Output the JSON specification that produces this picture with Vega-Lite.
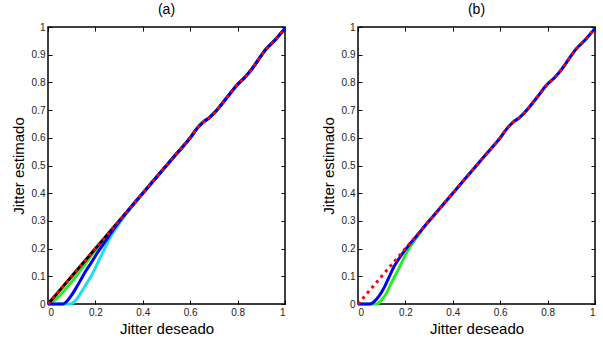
{
  "$schema": "https://vega.github.io/schema/vega-lite/v6.json",
  "padding": {"left": 10, "top": 2, "right": 3, "bottom": 2},
  "spacing": 28,
  "config": {
    "font": "Liberation Sans",
    "view": {"stroke": "black", "strokeWidth": 1.5},
    "axis": {
      "domain": false, "grid": false,
      "tickColor": "black", "tickSize": -4, "tickWidth": 1,
      "labelFontSize": 10, "labelColor": "#222", "labelPadding": 7,
      "titleFontSize": 15, "titleFontWeight": "normal", "titleColor": "black"
    },
    "axisY": {"titlePadding": 5},
    "title": {"fontSize": 14, "fontWeight": "normal", "offset": 5, "color": "black"},
    "line": {"strokeWidth": 3, "interpolate": "monotone"}
  },
  "datasets": {
    "d": [
      {"p":"a","s":"black","x":0,"y":0},{"p":"a","s":"black","x":0.1,"y":0.1},{"p":"a","s":"black","x":0.2,"y":0.2},{"p":"a","s":"black","x":0.3,"y":0.3},
      {"p":"a","s":"black","x":0.4,"y":0.4},{"p":"a","s":"black","x":0.5,"y":0.5},{"p":"a","s":"black","x":0.55,"y":0.55},{"p":"a","s":"black","x":0.6,"y":0.6},{"p":"a","s":"black","x":0.63,"y":0.635},{"p":"a","s":"black","x":0.655,"y":0.657},{"p":"a","s":"black","x":0.68,"y":0.672},{"p":"a","s":"black","x":0.705,"y":0.693},{"p":"a","s":"black","x":0.75,"y":0.74},{"p":"a","s":"black","x":0.795,"y":0.788},{"p":"a","s":"black","x":0.83,"y":0.818},{"p":"a","s":"black","x":0.86,"y":0.848},{"p":"a","s":"black","x":0.89,"y":0.885},{"p":"a","s":"black","x":0.92,"y":0.92},{"p":"a","s":"black","x":0.96,"y":0.955},{"p":"a","s":"black","x":1,"y":0.995},

      {"p":"a","s":"red","x":0,"y":0},{"p":"a","s":"red","x":0.1,"y":0.1},{"p":"a","s":"red","x":0.2,"y":0.2},{"p":"a","s":"red","x":0.3,"y":0.3},
      {"p":"a","s":"red","x":0.4,"y":0.4},{"p":"a","s":"red","x":0.5,"y":0.5},{"p":"a","s":"red","x":0.55,"y":0.55},{"p":"a","s":"red","x":0.6,"y":0.6},{"p":"a","s":"red","x":0.63,"y":0.635},{"p":"a","s":"red","x":0.655,"y":0.657},{"p":"a","s":"red","x":0.68,"y":0.672},{"p":"a","s":"red","x":0.705,"y":0.693},{"p":"a","s":"red","x":0.75,"y":0.74},{"p":"a","s":"red","x":0.795,"y":0.788},{"p":"a","s":"red","x":0.83,"y":0.818},{"p":"a","s":"red","x":0.86,"y":0.848},{"p":"a","s":"red","x":0.89,"y":0.885},{"p":"a","s":"red","x":0.92,"y":0.92},{"p":"a","s":"red","x":0.96,"y":0.955},{"p":"a","s":"red","x":1,"y":0.995},

      {"p":"a","s":"green","x":0,"y":0},{"p":"a","s":"green","x":0.02,"y":0.008},{"p":"a","s":"green","x":0.042,"y":0.024},{"p":"a","s":"green","x":0.07,"y":0.05},{"p":"a","s":"green","x":0.098,"y":0.078},{"p":"a","s":"green","x":0.12,"y":0.102},{"p":"a","s":"green","x":0.141,"y":0.126},{"p":"a","s":"green","x":0.17,"y":0.16},{"p":"a","s":"green","x":0.2,"y":0.195},{"p":"a","s":"green","x":0.25,"y":0.248},{"p":"a","s":"green","x":0.3,"y":0.3},
      {"p":"a","s":"green","x":0.4,"y":0.4},{"p":"a","s":"green","x":0.5,"y":0.5},{"p":"a","s":"green","x":0.55,"y":0.55},{"p":"a","s":"green","x":0.6,"y":0.6},{"p":"a","s":"green","x":0.63,"y":0.635},{"p":"a","s":"green","x":0.655,"y":0.657},{"p":"a","s":"green","x":0.68,"y":0.672},{"p":"a","s":"green","x":0.705,"y":0.693},{"p":"a","s":"green","x":0.75,"y":0.74},{"p":"a","s":"green","x":0.795,"y":0.788},{"p":"a","s":"green","x":0.83,"y":0.818},{"p":"a","s":"green","x":0.86,"y":0.848},{"p":"a","s":"green","x":0.89,"y":0.885},{"p":"a","s":"green","x":0.92,"y":0.92},{"p":"a","s":"green","x":0.96,"y":0.955},{"p":"a","s":"green","x":1,"y":0.995},

      {"p":"a","s":"blue","x":0,"y":0},{"p":"a","s":"blue","x":0.063,"y":0},{"p":"a","s":"blue","x":0.08,"y":0.01},{"p":"a","s":"blue","x":0.098,"y":0.03},{"p":"a","s":"blue","x":0.12,"y":0.06},{"p":"a","s":"blue","x":0.14,"y":0.09},{"p":"a","s":"blue","x":0.16,"y":0.12},{"p":"a","s":"blue","x":0.183,"y":0.15},{"p":"a","s":"blue","x":0.21,"y":0.187},{"p":"a","s":"blue","x":0.239,"y":0.222},{"p":"a","s":"blue","x":0.27,"y":0.262},{"p":"a","s":"blue","x":0.3,"y":0.297},{"p":"a","s":"blue","x":0.35,"y":0.35},
      {"p":"a","s":"blue","x":0.4,"y":0.4},{"p":"a","s":"blue","x":0.5,"y":0.5},{"p":"a","s":"blue","x":0.55,"y":0.55},{"p":"a","s":"blue","x":0.6,"y":0.6},{"p":"a","s":"blue","x":0.63,"y":0.635},{"p":"a","s":"blue","x":0.655,"y":0.657},{"p":"a","s":"blue","x":0.68,"y":0.672},{"p":"a","s":"blue","x":0.705,"y":0.693},{"p":"a","s":"blue","x":0.75,"y":0.74},{"p":"a","s":"blue","x":0.795,"y":0.788},{"p":"a","s":"blue","x":0.83,"y":0.818},{"p":"a","s":"blue","x":0.86,"y":0.848},{"p":"a","s":"blue","x":0.89,"y":0.885},{"p":"a","s":"blue","x":0.92,"y":0.92},{"p":"a","s":"blue","x":0.96,"y":0.955},{"p":"a","s":"blue","x":1,"y":0.995},

      {"p":"a","s":"cyan","x":0,"y":0},{"p":"a","s":"cyan","x":0.09,"y":0},{"p":"a","s":"cyan","x":0.105,"y":0.004},{"p":"a","s":"cyan","x":0.12,"y":0.016},{"p":"a","s":"cyan","x":0.14,"y":0.042},{"p":"a","s":"cyan","x":0.16,"y":0.07},{"p":"a","s":"cyan","x":0.183,"y":0.102},{"p":"a","s":"cyan","x":0.205,"y":0.14},{"p":"a","s":"cyan","x":0.225,"y":0.175},{"p":"a","s":"cyan","x":0.245,"y":0.21},{"p":"a","s":"cyan","x":0.267,"y":0.247},{"p":"a","s":"cyan","x":0.29,"y":0.277},{"p":"a","s":"cyan","x":0.309,"y":0.3},{"p":"a","s":"cyan","x":0.33,"y":0.325},{"p":"a","s":"cyan","x":0.36,"y":0.358},
      {"p":"a","s":"cyan","x":0.4,"y":0.4},{"p":"a","s":"cyan","x":0.5,"y":0.5},{"p":"a","s":"cyan","x":0.55,"y":0.55},{"p":"a","s":"cyan","x":0.6,"y":0.6},{"p":"a","s":"cyan","x":0.63,"y":0.635},{"p":"a","s":"cyan","x":0.655,"y":0.657},{"p":"a","s":"cyan","x":0.68,"y":0.672},{"p":"a","s":"cyan","x":0.705,"y":0.693},{"p":"a","s":"cyan","x":0.75,"y":0.74},{"p":"a","s":"cyan","x":0.795,"y":0.788},{"p":"a","s":"cyan","x":0.83,"y":0.818},{"p":"a","s":"cyan","x":0.86,"y":0.848},{"p":"a","s":"cyan","x":0.89,"y":0.885},{"p":"a","s":"cyan","x":0.92,"y":0.92},{"p":"a","s":"cyan","x":0.96,"y":0.955},{"p":"a","s":"cyan","x":1,"y":0.995},

      {"p":"b","s":"red","x":0,"y":0},{"p":"b","s":"red","x":0.1,"y":0.1},{"p":"b","s":"red","x":0.2,"y":0.2},{"p":"b","s":"red","x":0.3,"y":0.3},
      {"p":"b","s":"red","x":0.4,"y":0.4},{"p":"b","s":"red","x":0.5,"y":0.5},{"p":"b","s":"red","x":0.55,"y":0.55},{"p":"b","s":"red","x":0.6,"y":0.6},{"p":"b","s":"red","x":0.63,"y":0.635},{"p":"b","s":"red","x":0.655,"y":0.657},{"p":"b","s":"red","x":0.68,"y":0.672},{"p":"b","s":"red","x":0.705,"y":0.693},{"p":"b","s":"red","x":0.75,"y":0.74},{"p":"b","s":"red","x":0.795,"y":0.79},{"p":"b","s":"red","x":0.83,"y":0.818},{"p":"b","s":"red","x":0.86,"y":0.848},{"p":"b","s":"red","x":0.89,"y":0.885},{"p":"b","s":"red","x":0.92,"y":0.92},{"p":"b","s":"red","x":0.96,"y":0.955},{"p":"b","s":"red","x":1,"y":0.995},

      {"p":"b","s":"blue","x":0,"y":0},{"p":"b","s":"blue","x":0.051,"y":0},{"p":"b","s":"blue","x":0.07,"y":0.01},{"p":"b","s":"blue","x":0.09,"y":0.03},{"p":"b","s":"blue","x":0.107,"y":0.054},{"p":"b","s":"blue","x":0.13,"y":0.095},{"p":"b","s":"blue","x":0.15,"y":0.132},{"p":"b","s":"blue","x":0.17,"y":0.16},{"p":"b","s":"blue","x":0.192,"y":0.187},{"p":"b","s":"blue","x":0.22,"y":0.218},{"p":"b","s":"blue","x":0.249,"y":0.247},{"p":"b","s":"blue","x":0.28,"y":0.28},{"p":"b","s":"blue","x":0.3,"y":0.3},
      {"p":"b","s":"blue","x":0.4,"y":0.4},{"p":"b","s":"blue","x":0.5,"y":0.5},{"p":"b","s":"blue","x":0.55,"y":0.55},{"p":"b","s":"blue","x":0.6,"y":0.6},{"p":"b","s":"blue","x":0.63,"y":0.635},{"p":"b","s":"blue","x":0.655,"y":0.657},{"p":"b","s":"blue","x":0.68,"y":0.672},{"p":"b","s":"blue","x":0.705,"y":0.693},{"p":"b","s":"blue","x":0.75,"y":0.74},{"p":"b","s":"blue","x":0.795,"y":0.79},{"p":"b","s":"blue","x":0.83,"y":0.818},{"p":"b","s":"blue","x":0.86,"y":0.848},{"p":"b","s":"blue","x":0.89,"y":0.885},{"p":"b","s":"blue","x":0.92,"y":0.92},{"p":"b","s":"blue","x":0.96,"y":0.955},{"p":"b","s":"blue","x":1,"y":0.995},

      {"p":"b","s":"green","x":0,"y":0},{"p":"b","s":"green","x":0.079,"y":0},{"p":"b","s":"green","x":0.1,"y":0.015},{"p":"b","s":"green","x":0.122,"y":0.042},{"p":"b","s":"green","x":0.14,"y":0.075},{"p":"b","s":"green","x":0.164,"y":0.114},{"p":"b","s":"green","x":0.185,"y":0.15},{"p":"b","s":"green","x":0.206,"y":0.187},{"p":"b","s":"green","x":0.235,"y":0.225},{"p":"b","s":"green","x":0.263,"y":0.259},{"p":"b","s":"green","x":0.29,"y":0.29},{"p":"b","s":"green","x":0.32,"y":0.32},
      {"p":"b","s":"green","x":0.4,"y":0.4},{"p":"b","s":"green","x":0.5,"y":0.5},{"p":"b","s":"green","x":0.55,"y":0.55},{"p":"b","s":"green","x":0.6,"y":0.6},{"p":"b","s":"green","x":0.63,"y":0.635},{"p":"b","s":"green","x":0.655,"y":0.657},{"p":"b","s":"green","x":0.68,"y":0.672},{"p":"b","s":"green","x":0.705,"y":0.693},{"p":"b","s":"green","x":0.75,"y":0.74},{"p":"b","s":"green","x":0.795,"y":0.79},{"p":"b","s":"green","x":0.83,"y":0.818},{"p":"b","s":"green","x":0.86,"y":0.848},{"p":"b","s":"green","x":0.89,"y":0.885},{"p":"b","s":"green","x":0.92,"y":0.92},{"p":"b","s":"green","x":0.96,"y":0.955},{"p":"b","s":"green","x":1,"y":0.995}
    ]
  },
  "hconcat": [
    {
      "width": 237, "height": 277,
      "title": "(a)",
      "data": {"name": "d"},
      "resolve": {"axis": {"x": "independent", "y": "independent"}},
      "layer": [
        {"transform": [{"filter": "datum.p=='a' && datum.s=='cyan'"}], "mark": {"type": "line", "color": "#1fe0e6"},
         "encoding": {"x": {"field": "x", "type": "quantitative", "scale": {"domain": [0, 1], "nice": false}, "axis": {"orient": "bottom", "values": [0,0.2,0.4,0.6,0.8,1], "format": "~g", "title": "Jitter deseado"}},
                      "y": {"field": "y", "type": "quantitative", "scale": {"domain": [0, 1], "nice": false}, "axis": {"orient": "left", "values": [0,0.1,0.2,0.3,0.4,0.5,0.6,0.7,0.8,0.9,1], "format": "~g", "title": "Jitter estimado"}}}},
        {"transform": [{"filter": "datum.p=='a' && datum.s=='green'"}], "mark": {"type": "line", "color": "#22ee22"},
         "encoding": {"x": {"field": "x", "type": "quantitative", "axis": null}, "y": {"field": "y", "type": "quantitative", "axis": null}}},
        {"transform": [{"filter": "datum.p=='a' && datum.s=='black'"}], "mark": {"type": "line", "color": "black"},
         "encoding": {"x": {"field": "x", "type": "quantitative", "axis": null}, "y": {"field": "y", "type": "quantitative", "axis": null}}},
        {"transform": [{"filter": "datum.p=='a' && datum.s=='blue'"}], "mark": {"type": "line", "color": "#0000ff"},
         "encoding": {"x": {"field": "x", "type": "quantitative", "axis": null}, "y": {"field": "y", "type": "quantitative", "axis": null}}},
        {"transform": [{"filter": "datum.p=='a' && datum.s=='red'"}], "mark": {"type": "line", "color": "#ff0000", "strokeDash": [3, 4]},
         "encoding": {"x": {"field": "x", "type": "quantitative", "axis": {"orient": "top", "values": [0,0.2,0.4,0.6,0.8,1], "labels": false, "title": null}},
                      "y": {"field": "y", "type": "quantitative", "axis": {"orient": "right", "values": [0,0.1,0.2,0.3,0.4,0.5,0.6,0.7,0.8,0.9,1], "labels": false, "title": null}}}}
      ]
    },
    {
      "width": 237, "height": 277,
      "title": "(b)",
      "data": {"name": "d"},
      "resolve": {"axis": {"x": "independent", "y": "independent"}},
      "layer": [
        {"transform": [{"filter": "datum.p=='b' && datum.s=='green'"}], "mark": {"type": "line", "color": "#22ee22"},
         "encoding": {"x": {"field": "x", "type": "quantitative", "scale": {"domain": [0, 1], "nice": false}, "axis": {"orient": "bottom", "values": [0,0.2,0.4,0.6,0.8,1], "format": "~g", "title": "Jitter deseado"}},
                      "y": {"field": "y", "type": "quantitative", "scale": {"domain": [0, 1], "nice": false}, "axis": {"orient": "left", "values": [0,0.1,0.2,0.3,0.4,0.5,0.6,0.7,0.8,0.9,1], "format": "~g", "title": "Jitter estimado"}}}},
        {"transform": [{"filter": "datum.p=='b' && datum.s=='blue'"}], "mark": {"type": "line", "color": "#0000ff"},
         "encoding": {"x": {"field": "x", "type": "quantitative", "axis": null}, "y": {"field": "y", "type": "quantitative", "axis": null}}},
        {"transform": [{"filter": "datum.p=='b' && datum.s=='red'"}], "mark": {"type": "line", "color": "#ff0000", "strokeDash": [3, 4]},
         "encoding": {"x": {"field": "x", "type": "quantitative", "axis": {"orient": "top", "values": [0,0.2,0.4,0.6,0.8,1], "labels": false, "title": null}},
                      "y": {"field": "y", "type": "quantitative", "axis": {"orient": "right", "values": [0,0.1,0.2,0.3,0.4,0.5,0.6,0.7,0.8,0.9,1], "labels": false, "title": null}}}}
      ]
    }
  ]
}
